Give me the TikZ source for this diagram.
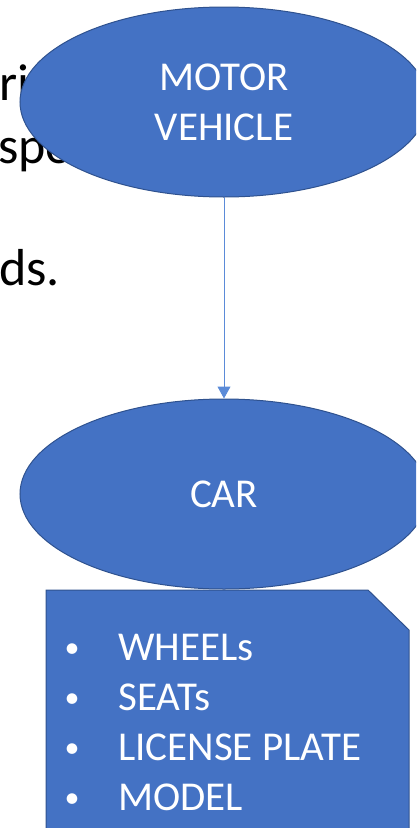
\documentclass[tikz,border=0pt]{standalone}
\usepackage{fontspec}
\setmainfont{Carlito}
\usepackage{xcolor}
\usepackage{tikz}
\usetikzlibrary{arrows.meta,shapes.geometric}
\definecolor{ofblue}{HTML}{4472C4}
\definecolor{ofedge}{HTML}{2F528F}
\definecolor{arrowblue}{HTML}{5B8BD8}

\begin{document}
\begin{tikzpicture}[x=1pt, y=-1pt, every node/.style={font=\fontsize{41}{50}\selectfont},
    bubble/.style={ellipse, draw=ofedge, fill=ofblue, line width=1pt, text=white, align=center,
      minimum width=408pt, minimum height=190pt, inner sep=0pt},
    slide/.style={anchor=base west, inner sep=0pt, font=\fontsize{52}{60}\selectfont},
    item/.style={anchor=base west, text=white, inner sep=0pt},
    dot/.style={anchor=base, text=white, inner sep=0pt, font=\fontsize{30}{36}\selectfont}]
      \useasboundingbox (0,0) rectangle (416,828);
      \clip (0,0) rectangle (416,828);
      % slide text left behind the shapes
      \node[slide] (w1) at (-1,100) {ri};
      \node[slide] (w2) at (-2,163) {spo};
      \node[slide] (w3) at (-1,285) {ds.};
      % ellipses
      \node[bubble] (motor) at (224,102) {\raisebox{-2pt}{MOTOR}\\\raisebox{-2pt}{VEHICLE}};
      \node[bubble] (car) at (224,494) {\raisebox{-2pt}{CAR}};
      \draw[arrowblue, line width=1pt, -{Triangle[length=12pt,width=13pt]}] (motor) -- (car);
      % snipped box with the list
      \filldraw[fill=ofblue, draw=ofedge, line width=1pt]
        (46,590) -- (368,590) -- (409,630) -- (409,840) -- (46,840) -- cycle;
      \foreach \t [count=\i] in {WHEELs, SEATs, LICENSE PLATE, MODEL} {
        \node[dot] (b\i) at (72,607+50*\i) {•};
        \node[item] (t\i) at (118,610+50*\i) {\t};
      }
\end{tikzpicture}
\end{document}
